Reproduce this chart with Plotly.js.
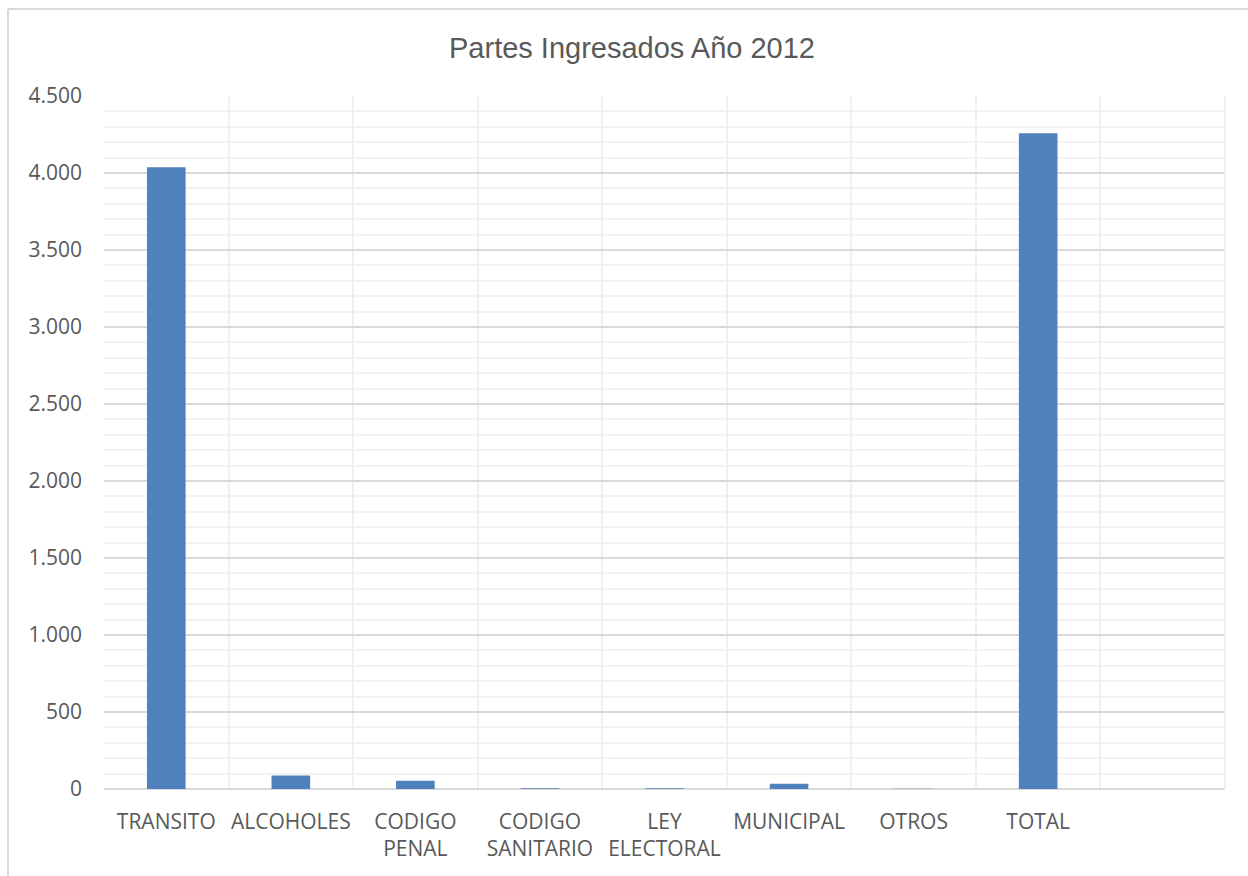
<!DOCTYPE html>
<html>
<head>
<meta charset="utf-8">
<script src="https://cdn.plot.ly/plotly-3.0.1.min.js"></script>
<style>html,body{margin:0;padding:0;background:#fff;}#chart{width:1248px;height:876px;}</style>
</head>
<body>
<div id="chart"></div>
<script>
const categories = ["TRANSITO", "ALCOHOLES", "CODIGO<br>PENAL", "CODIGO<br>SANITARIO", "LEY<br>ELECTORAL", "MUNICIPAL", "OTROS", "TOTAL", " "];
const barCategories = ["TRANSITO", "ALCOHOLES", "CODIGO<br>PENAL", "CODIGO<br>SANITARIO", "LEY<br>ELECTORAL", "MUNICIPAL", "OTROS", "TOTAL"];
const values = [4037, 88, 54, 5, 5, 34, 1, 4258];
const yTicks = [0, 500, 1000, 1500, 2000, 2500, 3000, 3500, 4000, 4500];

const trace = {
  type: 'bar',
  x: barCategories,
  y: values,
  width: 0.31,
  marker: {color: '#4f81bd'},
  hoverinfo: 'x+y'
};

const layout = {
  width: 1248,
  height: 876,
  paper_bgcolor: '#ffffff',
  plot_bgcolor: '#ffffff',
  separators: ',.',
  margin: {l: 104, r: 23, t: 96, b: 87},
  showlegend: false,
  title: {
    text: 'Partes Ingresados Año 2012',
    font: {family: 'Liberation Sans, Arial, sans-serif', size: 29, color: '#595959'},
    x: 632 / 1248, xref: 'container', xanchor: 'center',
    y: 47, yref: 'container', yanchor: 'middle'
  },
  xaxis: {
    type: 'category',
    categoryorder: 'array',
    categoryarray: categories,
    range: [-0.5, 8.5],
    tickson: 'boundaries',
    ticks: '',
    tickangle: 0,
    showgrid: true,
    gridcolor: '#f0f0f0',
    gridwidth: 2,
    showline: false,
    zeroline: false,
    tickfont: {family: 'Open Sans, sans-serif', size: 21, color: '#595959'},
    ticklabelstandoff: 18,
    fixedrange: true
  },
  yaxis: {
    range: [0, 4500],
    tickvals: yTicks,
    tickformat: ',d',
    ticks: '',
    showgrid: true,
    gridcolor: '#d9d9d9',
    gridwidth: 2,
    zeroline: true,
    zerolinecolor: '#d9d9d9',
    zerolinewidth: 2,
    showline: false,
    minor: {dtick: 100, showgrid: true, gridcolor: '#f2f2f2', gridwidth: 2},
    tickfont: {family: 'Open Sans, sans-serif', size: 21, color: '#595959'},
    ticklabelstandoff: 21,
    fixedrange: true
  },
  shapes: [
    {type: 'rect', xref: 'paper', yref: 'paper', x0: 1.0, x1: 1.0, y0: 0, y1: 1,
     line: {color: '#f0f0f0', width: 2}},
    {type: 'line', xref: 'paper', yref: 'paper', x0: -96/1121, x1: 1.2, y0: 1 + 87/693, y1: 1 + 87/693,
     line: {color: '#d9d9d9', width: 2}},
    {type: 'line', xref: 'paper', yref: 'paper', x0: -96/1121, x1: -96/1121, y0: 1 + 87/693, y1: -0.2,
     line: {color: '#d9d9d9', width: 2}}
  ]
};

Plotly.newPlot('chart', [trace], layout, {displayModeBar: false, staticPlot: true});
</script>
</body>
</html>
